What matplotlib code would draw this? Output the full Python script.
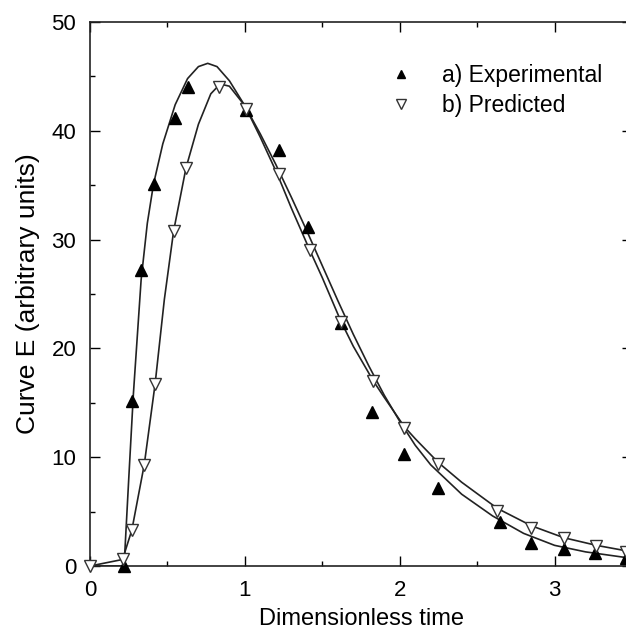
import numpy as np
import matplotlib
matplotlib.use("Agg")
import matplotlib.pyplot as plt
from matplotlib.ticker import MultipleLocator

plt.rcParams["font.family"] = ["Liberation Sans", "DejaVu Sans"]

exp_t = [0.22, 0.27, 0.33, 0.41, 0.55, 0.63, 1.01, 1.22, 1.41, 1.62, 1.82,
         2.03, 2.25, 2.65, 2.85, 3.06, 3.26, 3.46]
exp_e = [0.0, 15.2, 27.2, 35.1, 41.2, 44.0, 41.9, 38.2, 31.2, 22.3, 14.2,
         10.3, 7.2, 4.0, 2.1, 1.6, 1.2, 0.7]

pred_t = [0.0, 0.21, 0.27, 0.35, 0.42, 0.54, 0.62, 0.83, 1.01, 1.22, 1.42,
          1.62, 1.83, 2.03, 2.25, 2.63, 2.85, 3.06, 3.27, 3.46]
pred_e = [0.0, 0.6, 3.3, 9.3, 16.7, 30.8, 36.6, 44.0, 42.0, 36.0, 29.0,
          22.4, 17.0, 12.7, 9.4, 5.1, 3.5, 2.6, 1.8, 1.3]

# fitted curves
exp_curve_t = [0.0, 0.22, 0.25, 0.28, 0.33, 0.37, 0.41, 0.47, 0.55, 0.63,
               0.70, 0.76, 0.82, 0.90, 1.00, 1.10, 1.20, 1.30, 1.40, 1.50,
               1.60, 1.70, 1.80, 1.90, 2.00, 2.10, 2.20, 2.40, 2.60, 2.80,
               3.00, 3.20, 3.50]
exp_curve_e = [0.0, 0.0, 8.0, 15.8, 26.3, 31.5, 35.1, 38.8, 42.4, 44.8,
               45.9, 46.2, 45.9, 44.6, 42.3, 39.7, 36.9, 33.9, 30.8, 27.6,
               24.4, 21.3, 18.4, 15.7, 13.3, 11.1, 9.3, 6.6, 4.6, 3.0,
               1.9, 1.3, 0.7]

pred_curve_t = [0.0, 0.21, 0.27, 0.35, 0.42, 0.48, 0.54, 0.62, 0.70, 0.78,
                0.84, 0.90, 1.00, 1.10, 1.21, 1.30, 1.42, 1.50, 1.62, 1.70,
                1.83, 1.90, 2.03, 2.10, 2.25, 2.40, 2.63, 2.85, 3.06, 3.27,
                3.50]
pred_curve_e = [0.0, 0.6, 3.3, 9.3, 16.7, 24.5, 30.8, 36.6, 40.6, 43.4,
                44.3, 44.1, 42.3, 39.4, 36.0, 32.9, 29.0, 26.5, 22.5, 20.2,
                17.0, 15.5, 12.8, 11.7, 9.5, 7.7, 5.3, 3.7, 2.6, 1.9,
                1.3]

fig = plt.figure(figsize=(6.26, 6.32), dpi=100)
ax = fig.add_axes([0.1438, 0.1044, 0.8658, 0.8608])

ax.plot(exp_curve_t, exp_curve_e, color="#222222", lw=1.2, zorder=2)
ax.plot(pred_curve_t, pred_curve_e, color="#222222", lw=1.2, zorder=2)
ax.plot(exp_t, exp_e, ls="none", marker="^", ms=8, mfc="black", mec="black",
        label="a) Experimental", zorder=3, clip_on=False)
ax.plot(pred_t, pred_e, ls="none", marker="v", ms=9, mfc="white", mec="#333333",
        mew=1.0, label="b) Predicted", zorder=4, clip_on=False)

ax.set_xlim(0, 3.5)
ax.set_ylim(0, 50)
ax.xaxis.set_major_locator(MultipleLocator(1))
ax.xaxis.set_minor_locator(MultipleLocator(0.5))
ax.yaxis.set_major_locator(MultipleLocator(10))
ax.yaxis.set_minor_locator(MultipleLocator(5))
ax.tick_params(which="both", direction="in", top=True, right=True,
               width=1.0, labelsize=16, pad=10)
ax.tick_params(which="major", length=7)
ax.tick_params(which="minor", length=3.5)
for s in ax.spines.values():
    s.set_linewidth(1.2)
    s.set_color("#222222")

ax.set_xlabel("Dimensionless time", fontsize=17, labelpad=5)
ax.set_ylabel("Curve E (arbitrary units)", fontsize=19, labelpad=8)

ax.legend(loc="upper left", bbox_to_anchor=(0.515, 0.96), frameon=False,
          fontsize=16.5, handlelength=1.0, handletextpad=1.3, labelspacing=0.3,
          markerscale=0.75)

fig.savefig("out.png", dpi=100)
